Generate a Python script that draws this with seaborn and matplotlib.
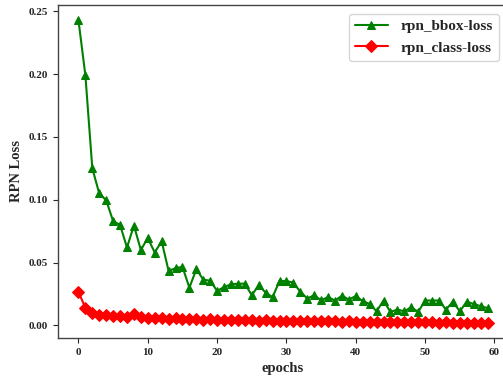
import matplotlib
matplotlib.use("Agg")
import matplotlib.pyplot as plt
import seaborn as sns
import numpy as np

epochs = list(range(60))
rpn_bbox_loss = [0.243, 0.199, 0.125, 0.105, 0.0996, 0.083, 0.080, 0.062, 0.0795, 0.060,
                 0.0696, 0.058, 0.067, 0.0434, 0.0455, 0.0466, 0.030, 0.0447, 0.0365, 0.0355,
                 0.0275, 0.0305, 0.0327, 0.0332, 0.0332, 0.024, 0.032, 0.026, 0.0225, 0.0353,
                 0.0353, 0.034, 0.0268, 0.0214, 0.024, 0.020, 0.0225, 0.0198, 0.0236, 0.0206,
                 0.0233, 0.0193, 0.0171, 0.0112, 0.0198, 0.0107, 0.0126, 0.0112, 0.0145, 0.0107,
                 0.0198, 0.0198, 0.0198, 0.0126, 0.0188, 0.0112, 0.0188, 0.0171, 0.0153, 0.0138]
rpn_class_loss = [0.0268, 0.0139, 0.0097, 0.0086, 0.0083, 0.0077, 0.0073, 0.0068, 0.0088, 0.0063,
                  0.0061, 0.0057, 0.0056, 0.0053, 0.0058, 0.0050, 0.0049, 0.0047, 0.0046, 0.0048,
                  0.0043, 0.0043, 0.0041, 0.0042, 0.0039, 0.0040, 0.0038, 0.0039, 0.0036, 0.0038,
                  0.0036, 0.0035, 0.0034, 0.0035, 0.0033, 0.0034, 0.0031, 0.0032, 0.0030, 0.0031,
                  0.0029, 0.0030, 0.0028, 0.0029, 0.0026, 0.0027, 0.0025, 0.0026, 0.0024, 0.0025,
                  0.0023, 0.0024, 0.0022, 0.0023, 0.0021, 0.0022, 0.0020, 0.0022, 0.0020, 0.0021]
series_labels = ["rpn_bbox-loss", "rpn_class-loss"]
x_label = "epochs"
y_label = "RPN Loss"

sns.set_style("ticks")
plt.rcParams["font.family"] = ["Liberation Serif", "DejaVu Serif"]
plt.rcParams["font.weight"] = "bold"

fig = plt.figure(figsize=(5.03, 3.78), dpi=100)
ax = fig.add_axes([0.1153, 0.1058, 0.8946, 0.881])

sns.lineplot(x=epochs, y=rpn_bbox_loss, ax=ax, color="green", marker="^",
             markersize=6, markeredgecolor="green", linewidth=1.5, label=series_labels[0])
sns.lineplot(x=epochs, y=rpn_class_loss, ax=ax, color="red", marker="D",
             markersize=6.5, markeredgecolor="red", linewidth=1.5, label=series_labels[1])

ax.set_xticks([0, 10, 20, 30, 40, 50, 60])
ax.set_yticks([0.00, 0.05, 0.10, 0.15, 0.20, 0.25])
ax.set_yticklabels([f"{v:.2f}" for v in [0.00, 0.05, 0.10, 0.15, 0.20, 0.25]])
ax.tick_params(axis="both", labelsize=8, direction="out", length=3.5, width=0.8)
for lab in ax.get_xticklabels() + ax.get_yticklabels():
    lab.set_fontweight("bold")
ax.set_xlabel(x_label, fontsize=10.5, fontweight="bold")
ax.set_ylabel(y_label, fontsize=10.5, fontweight="bold")
for s in ax.spines.values():
    s.set_color("#444444")
    s.set_linewidth(1.0)

leg = ax.legend(loc="upper right", bbox_to_anchor=(0.997, 0.997),
                prop={"weight": "bold", "size": 11}, frameon=True, handlelength=2.2)

fig.savefig("out.png", dpi=100)
